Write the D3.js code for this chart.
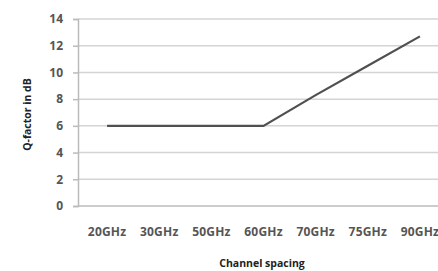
<!DOCTYPE html>
<html>
<head>
<meta charset="UTF-8">
<script src="https://cdn.jsdelivr.net/npm/d3@7"></script>
<style>
  body { margin: 0; background: #fff; }
  text { font-family: "Open Sans", sans-serif; }
</style>
</head>
<body>
<svg width="438" height="271"></svg>
<script>
var categories = ["20GHz", "30GHz", "50GHz", "60GHz", "70GHz", "75GHz", "90GHz"];
var qFactor = [6, 6, 6, 6, 8.3, 10.5, 12.7];
var yTicks = [0, 2, 4, 6, 8, 10, 12, 14];

var svg = d3.select("svg");
var plotLeft = 78, plotRight = 446, plotTop = 19, plotBottom = 206;

var x = d3.scaleBand().domain(categories).range([plotLeft + 3, plotRight]);
var y = d3.scaleLinear().domain([0, 14]).range([plotBottom, plotTop]);

// gridlines
svg.append("g")
  .selectAll("line")
  .data(yTicks.filter(function(d) { return d > 0; }))
  .enter().append("line")
  .attr("x1", plotLeft).attr("x2", plotRight)
  .attr("y1", function(d) { return y(d); })
  .attr("y2", function(d) { return y(d); })
  .attr("stroke", "#d4d4d4").attr("stroke-width", 1.5);

var yAxis = svg.append("g")
  .attr("transform", "translate(" + plotLeft + ",0)")
  .call(d3.axisLeft(y).tickValues(yTicks).tickSize(5).tickPadding(10));
yAxis.select(".domain").attr("stroke", "#bbb").attr("stroke-width", 1.5);
yAxis.selectAll(".tick line").attr("stroke", "#bbb").attr("stroke-width", 1.5);
yAxis.selectAll("text").attr("font-size", 12).attr("font-weight", "bold").attr("fill", "#555");

var xAxis = svg.append("g")
  .attr("transform", "translate(0," + plotBottom + ")")
  .call(d3.axisBottom(x).tickSize(0).tickPadding(21));
xAxis.select(".domain").attr("d", "M" + plotLeft + ",0H" + plotRight)
  .attr("stroke", "#bbb").attr("stroke-width", 1.5);
xAxis.selectAll("text").attr("font-size", 12).attr("font-weight", "bold")
  .attr("letter-spacing", 0.2).attr("fill", "#555");

var line = d3.line()
  .x(function(d, i) { return x(categories[i]) + x.bandwidth() / 2; })
  .y(function(d) { return y(d); });

svg.append("path")
  .datum(qFactor)
  .attr("d", line)
  .attr("fill", "none")
  .attr("stroke", "#505050")
  .attr("stroke-width", 2.2);

svg.append("text")
  .attr("transform", "translate(31," + ((plotTop + plotBottom) / 2 + 2) + ") rotate(-90)")
  .attr("text-anchor", "middle")
  .attr("font-size", 10.5)
  .attr("font-weight", "bold")
  .attr("fill", "#222")
  .text("Q-factor in dB");

svg.append("text")
  .attr("x", 262)
  .attr("y", 267)
  .attr("text-anchor", "middle")
  .attr("font-size", 10.5)
  .attr("font-weight", "bold")
  .attr("fill", "#222")
  .text("Channel spacing");
</script>
</body>
</html>
